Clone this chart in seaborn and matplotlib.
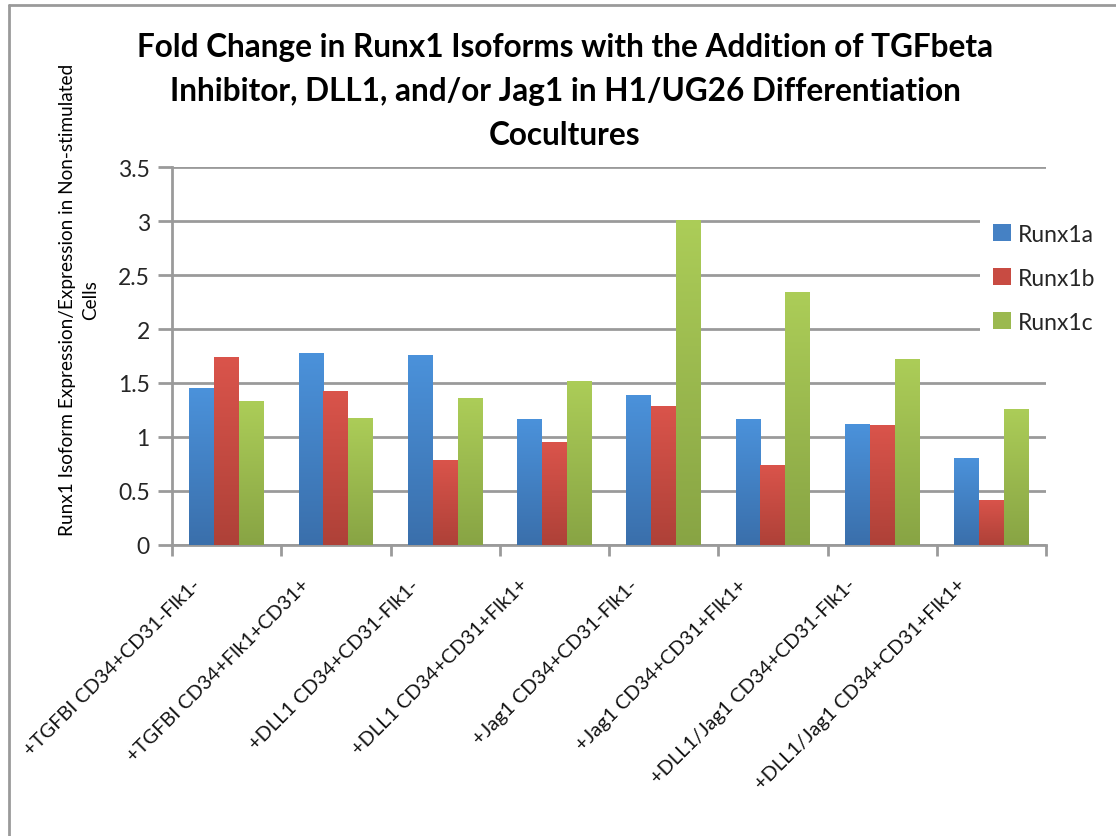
import numpy as np
import pandas as pd
import matplotlib
matplotlib.use("Agg")
import matplotlib.pyplot as plt
from matplotlib.colors import LinearSegmentedColormap, to_hex
from matplotlib.lines import Line2D
from matplotlib.ticker import FixedLocator
import seaborn as sns

# Data
conditions = [
    "+TGFBI CD34+CD31-Flk1-",
    "+TGFBI CD34+Flk1+CD31+",
    "+DLL1 CD34+CD31-Flk1-",
    "+DLL1 CD34+CD31+Flk1+",
    "+Jag1 CD34+CD31-Flk1-",
    "+Jag1 CD34+CD31+Flk1+",
    "+DLL1/Jag1 CD34+CD31-Flk1-",
    "+DLL1/Jag1 CD34+CD31+Flk1+",
]
isoforms = ["Runx1a", "Runx1b", "Runx1c"]
runx1a = [1.45, 1.78, 1.76, 1.17, 1.39, 1.17, 1.12, 0.81]
runx1b = [1.74, 1.43, 0.79, 0.95, 1.29, 0.74, 1.11, 0.42]
runx1c = [1.33, 1.18, 1.36, 1.52, 3.01, 2.34, 1.72, 1.26]
yticks = [0, 0.5, 1, 1.5, 2, 2.5, 3, 3.5]
ytick_labels = ["0", "0.5", "1", "1.5", "2", "2.5", "3", "3.5"]

title = ("Fold Change in Runx1 Isoforms with the Addition of TGFbeta\n"
         "Inhibitor, DLL1, and/or Jag1 in H1/UG26 Differentiation\n"
         "Cocultures")
ylabel = "Runx1 Isoform Expression/Expression in Non-stimulated\nCells"

df = pd.DataFrame({
    "condition": conditions * 3,
    "isoform": np.repeat(isoforms, len(conditions)),
    "value": runx1a + runx1b + runx1c,
})

# gradient ends (top, bottom) per series
top_cols = ["#4B92DB", "#DA544B", "#ACCD58"]
bot_cols = ["#3A6FAB", "#AE4138", "#88A444"]
mid_cols = ["#4581C4", "#C84B42", "#9BB94F"]

sns.set_theme(style="white")
plt.rcParams["font.family"] = ["Lato", "DejaVu Sans"]

fig = plt.figure(figsize=(11.16, 8.37), dpi=100)
ax = fig.add_axes([172 / 1116, 1 - 546 / 837, (1046 - 172) / 1116, (546 - 168) / 837])

sns.barplot(data=df, x="condition", y="value", hue="isoform", order=conditions,
            hue_order=isoforms, palette=mid_cols, width=0.68, gap=0,
            saturation=1, ax=ax, legend=False, zorder=3)

# vertical gradient fill inside each bar
grad = np.linspace(0, 1, 256).reshape(256, 1)
mid_hex = [c.lower() for c in mid_cols]
for p in ax.patches:
    w, h = p.get_width(), p.get_height()
    if w <= 0 or h <= 0:
        continue
    idx = mid_hex.index(to_hex(p.get_facecolor()).lower())
    cmap = LinearSegmentedColormap.from_list("g", [bot_cols[idx], top_cols[idx]])
    x0, y0 = p.get_x(), p.get_y()
    im = ax.imshow(grad, extent=[x0, x0 + w, y0, y0 + h], origin="lower",
                   cmap=cmap, aspect="auto", zorder=3.5, interpolation="bilinear")
    im.set_clip_path(p)
    p.set_edgecolor("none")

ax.set_xlim(-0.5, len(conditions) - 0.5)
ax.set_ylim(0, 3.5)
ax.set_aspect("auto")

# grid and spines
grid_col = "#9A9A9A"
ax.set_yticks(yticks)
ax.set_yticklabels(ytick_labels)
ax.yaxis.grid(True, color=grid_col, linewidth=2, zorder=0)
ax.set_axisbelow(True)
for s in ["top", "right"]:
    ax.spines[s].set_visible(False)
for s in ["left", "bottom"]:
    ax.spines[s].set_color(grid_col)
    ax.spines[s].set_linewidth(2)

ax.tick_params(axis="y", which="major", length=10, width=2, color=grid_col,
               labelsize=16.5, pad=6, left=True)
# slanted category labels sit a little left of each slot centre;
# the visible tick marks are the minor ticks on the slot boundaries
label_offset = 0.32
ax.set_xticks(np.arange(len(conditions)) - label_offset)
ax.set_xticklabels(conditions, rotation=45, ha="right", rotation_mode="anchor")
ax.tick_params(axis="x", which="major", length=0, labelsize=14.4, pad=22,
               labelcolor="#111111")
ax.xaxis.set_minor_locator(FixedLocator(np.arange(-0.5, len(conditions), 1.0)))
ax.tick_params(axis="x", which="minor", length=8, width=2, color=grid_col, bottom=True)
ax.set_xlim(-0.5, len(conditions) - 0.5)
ax.set_xlabel("")
ax.set_ylabel("")

# legend
handles = [plt.Rectangle((0, 0), 1, 1, facecolor=c, edgecolor="none") for c in mid_cols]
leg = ax.legend(handles, isoforms, loc="upper left", bbox_to_anchor=(0.924, 0.886),
                frameon=True, fontsize=16.5, handlelength=0.75, handleheight=0.75,
                handletextpad=0.3, labelspacing=1.0, borderpad=0.6, borderaxespad=0)
leg.get_frame().set_facecolor("white")
leg.get_frame().set_edgecolor("none")
leg.get_frame().set_alpha(1)
leg.set_zorder(5)

# titles
fig.text(565 / 1116, 1 - 33 / 837, title, ha="center", va="top", fontsize=22.7,
         fontweight="bold", linespacing=1.62, color="black")
fig.text(79 / 1116, 1 - 300 / 837, ylabel, ha="center", va="center", rotation=90,
         fontsize=13.7, linespacing=1.4, color="black")

# chart border
fig.add_artist(Line2D([9 / 1116, 1.0], [1 - 6 / 837, 1 - 6 / 837],
                      transform=fig.transFigure, color="#9A9A9A", linewidth=2))
fig.add_artist(Line2D([9 / 1116, 9 / 1116], [0, 1 - 6 / 837],
                      transform=fig.transFigure, color="#9A9A9A", linewidth=2))

fig.savefig("out.png", dpi=100, facecolor="white")
